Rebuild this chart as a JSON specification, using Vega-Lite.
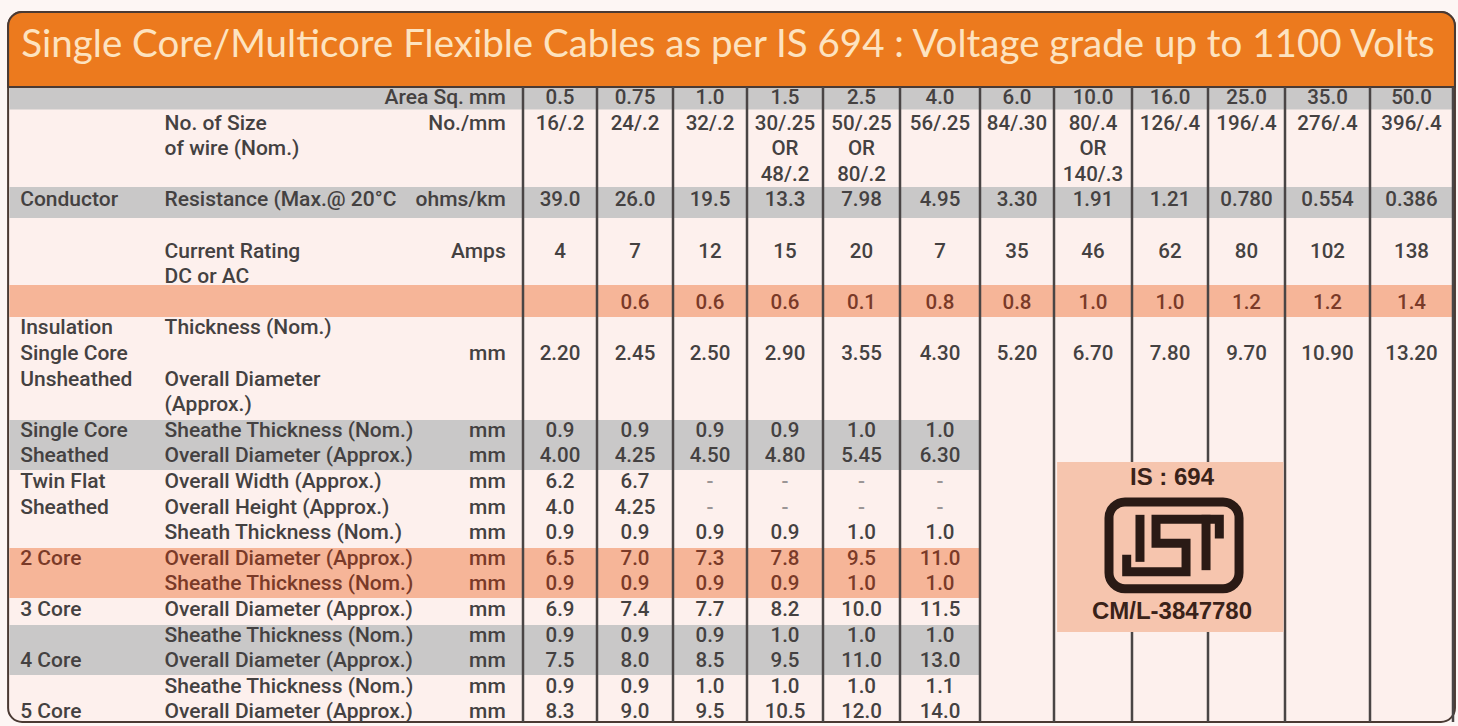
{
  "$schema": "https://vega.github.io/schema/vega-lite/v6.json",
  "width": 1458,
  "height": 726,
  "autosize": {"type": "fit", "contains": "padding"},
  "padding": 0,
  "background": "#fdf6f4",
  "config": {"view": {"stroke": null}},
  "datasets": {
    "bandsFull": [
      {"top": -0.4, "bottom": 0.45, "kind": "gray"},
      {"top": 3.48, "bottom": 4.69, "kind": "gray"},
      {"top": 7.3, "bottom": 8.55, "kind": "orange"}
    ],
    "bandsLeft": [
      {"top": 12.58, "bottom": 14.53, "kind": "gray"},
      {"top": 17.58, "bottom": 19.53, "kind": "orange"},
      {"top": 20.59, "bottom": 22.54, "kind": "gray"}
    ],
    "bounds": [
      {"b": -0.5}, {"b": 0.5}, {"b": 1.5}, {"b": 2.5}, {"b": 3.5}, {"b": 4.5}, {"b": 5.5},
      {"b": 6.5}, {"b": 7.5}, {"b": 8.5}, {"b": 9.5}, {"b": 10.5}, {"b": 11.5}
    ],
    "logo": [
      {"part": "a", "i": 0, "x": 7.605, "y": 16.458},
      {"part": "a", "i": 1, "x": 7.605, "y": 17.943},
      {"part": "b", "i": 0, "x": 7.432, "y": 18.021},
      {"part": "b", "i": 1, "x": 7.432, "y": 18.503},
      {"part": "b", "i": 2, "x": 8.211, "y": 18.503},
      {"part": "b", "i": 3, "x": 8.211, "y": 17.396},
      {"part": "b", "i": 4, "x": 7.816, "y": 17.396},
      {"part": "b", "i": 5, "x": 7.816, "y": 16.458},
      {"part": "b", "i": 6, "x": 8.647, "y": 16.458},
      {"part": "b", "i": 7, "x": 8.647, "y": 17.031},
      {"part": "c", "i": 0, "x": 8.474, "y": 16.458},
      {"part": "c", "i": 1, "x": 8.474, "y": 18.268}
    ],
    "groups": [
      {"L": 4, "t": "Conductor"},
      {"L": 9, "t": "Insulation"},
      {"L": 10, "t": "Single Core"},
      {"L": 11, "t": "Unsheathed"},
      {"L": 13, "t": "Single Core"},
      {"L": 14, "t": "Sheathed"},
      {"L": 15, "t": "Twin Flat"},
      {"L": 16, "t": "Sheathed"},
      {"L": 18, "t": "2 Core"},
      {"L": 20, "t": "3 Core"},
      {"L": 22, "t": "4 Core"},
      {"L": 24, "t": "5 Core"}
    ],
    "params": [
      {"L": 1, "t": "No. of Size"},
      {"L": 2, "t": "of wire (Nom.)"},
      {"L": 4, "t": "Resistance (Max.@ 20°C"},
      {"L": 6, "t": "Current Rating"},
      {"L": 7, "t": "DC or AC"},
      {"L": 9, "t": "Thickness (Nom.)"},
      {"L": 11, "t": "Overall Diameter"},
      {"L": 12, "t": "(Approx.)"},
      {"L": 13, "t": "Sheathe Thickness (Nom.)"},
      {"L": 14, "t": "Overall Diameter (Approx.)"},
      {"L": 15, "t": "Overall Width (Approx.)"},
      {"L": 16, "t": "Overall Height (Approx.)"},
      {"L": 17, "t": "Sheath Thickness (Nom.)"},
      {"L": 18, "t": "Overall Diameter (Approx.)"},
      {"L": 19, "t": "Sheathe Thickness (Nom.)"},
      {"L": 20, "t": "Overall Diameter (Approx.)"},
      {"L": 21, "t": "Sheathe Thickness (Nom.)"},
      {"L": 22, "t": "Overall Diameter (Approx.)"},
      {"L": 23, "t": "Sheathe Thickness (Nom.)"},
      {"L": 24, "t": "Overall Diameter (Approx.)"}
    ],
    "units": [
      {"L": 0, "t": "Area Sq. mm"},
      {"L": 1, "t": "No./mm"},
      {"L": 4, "t": "ohms/km"},
      {"L": 6, "t": "Amps"},
      {"L": 10, "t": "mm"},
      {"L": 13, "t": "mm"}, {"L": 14, "t": "mm"}, {"L": 15, "t": "mm"}, {"L": 16, "t": "mm"},
      {"L": 17, "t": "mm"}, {"L": 18, "t": "mm"}, {"L": 19, "t": "mm"}, {"L": 20, "t": "mm"},
      {"L": 21, "t": "mm"}, {"L": 22, "t": "mm"}, {"L": 23, "t": "mm"}, {"L": 24, "t": "mm"}
    ],
    "cells": [
      {"L": 0, "c": 0, "v": "0.5"}, {"L": 0, "c": 1, "v": "0.75"}, {"L": 0, "c": 2, "v": "1.0"}, {"L": 0, "c": 3, "v": "1.5"},
      {"L": 0, "c": 4, "v": "2.5"}, {"L": 0, "c": 5, "v": "4.0"}, {"L": 0, "c": 6, "v": "6.0"}, {"L": 0, "c": 7, "v": "10.0"},
      {"L": 0, "c": 8, "v": "16.0"}, {"L": 0, "c": 9, "v": "25.0"}, {"L": 0, "c": 10, "v": "35.0"}, {"L": 0, "c": 11, "v": "50.0"},
      {"L": 1, "c": 0, "v": "16/.2"}, {"L": 1, "c": 1, "v": "24/.2"}, {"L": 1, "c": 2, "v": "32/.2"}, {"L": 1, "c": 3, "v": "30/.25"},
      {"L": 1, "c": 4, "v": "50/.25"}, {"L": 1, "c": 5, "v": "56/.25"}, {"L": 1, "c": 6, "v": "84/.30"}, {"L": 1, "c": 7, "v": "80/.4"},
      {"L": 1, "c": 8, "v": "126/.4"}, {"L": 1, "c": 9, "v": "196/.4"}, {"L": 1, "c": 10, "v": "276/.4"}, {"L": 1, "c": 11, "v": "396/.4"},
      {"L": 2, "c": 3, "v": "OR"}, {"L": 2, "c": 4, "v": "OR"}, {"L": 2, "c": 7, "v": "OR"},
      {"L": 3, "c": 3, "v": "48/.2"}, {"L": 3, "c": 4, "v": "80/.2"}, {"L": 3, "c": 7, "v": "140/.3"},
      {"L": 4, "c": 0, "v": "39.0"}, {"L": 4, "c": 1, "v": "26.0"}, {"L": 4, "c": 2, "v": "19.5"}, {"L": 4, "c": 3, "v": "13.3"},
      {"L": 4, "c": 4, "v": "7.98"}, {"L": 4, "c": 5, "v": "4.95"}, {"L": 4, "c": 6, "v": "3.30"}, {"L": 4, "c": 7, "v": "1.91"},
      {"L": 4, "c": 8, "v": "1.21"}, {"L": 4, "c": 9, "v": "0.780"}, {"L": 4, "c": 10, "v": "0.554"}, {"L": 4, "c": 11, "v": "0.386"},
      {"L": 6, "c": 0, "v": "4"}, {"L": 6, "c": 1, "v": "7"}, {"L": 6, "c": 2, "v": "12"}, {"L": 6, "c": 3, "v": "15"},
      {"L": 6, "c": 4, "v": "20"}, {"L": 6, "c": 5, "v": "7"}, {"L": 6, "c": 6, "v": "35"}, {"L": 6, "c": 7, "v": "46"},
      {"L": 6, "c": 8, "v": "62"}, {"L": 6, "c": 9, "v": "80"}, {"L": 6, "c": 10, "v": "102"}, {"L": 6, "c": 11, "v": "138"},
      {"L": 8, "c": 1, "v": "0.6"}, {"L": 8, "c": 2, "v": "0.6"}, {"L": 8, "c": 3, "v": "0.6"},
      {"L": 8, "c": 4, "v": "0.1"}, {"L": 8, "c": 5, "v": "0.8"}, {"L": 8, "c": 6, "v": "0.8"}, {"L": 8, "c": 7, "v": "1.0"},
      {"L": 8, "c": 8, "v": "1.0"}, {"L": 8, "c": 9, "v": "1.2"}, {"L": 8, "c": 10, "v": "1.2"}, {"L": 8, "c": 11, "v": "1.4"},
      {"L": 10, "c": 0, "v": "2.20"}, {"L": 10, "c": 1, "v": "2.45"}, {"L": 10, "c": 2, "v": "2.50"}, {"L": 10, "c": 3, "v": "2.90"},
      {"L": 10, "c": 4, "v": "3.55"}, {"L": 10, "c": 5, "v": "4.30"}, {"L": 10, "c": 6, "v": "5.20"}, {"L": 10, "c": 7, "v": "6.70"},
      {"L": 10, "c": 8, "v": "7.80"}, {"L": 10, "c": 9, "v": "9.70"}, {"L": 10, "c": 10, "v": "10.90"}, {"L": 10, "c": 11, "v": "13.20"},
      {"L": 13, "c": 0, "v": "0.9"}, {"L": 13, "c": 1, "v": "0.9"}, {"L": 13, "c": 2, "v": "0.9"}, {"L": 13, "c": 3, "v": "0.9"}, {"L": 13, "c": 4, "v": "1.0"}, {"L": 13, "c": 5, "v": "1.0"},
      {"L": 14, "c": 0, "v": "4.00"}, {"L": 14, "c": 1, "v": "4.25"}, {"L": 14, "c": 2, "v": "4.50"}, {"L": 14, "c": 3, "v": "4.80"}, {"L": 14, "c": 4, "v": "5.45"}, {"L": 14, "c": 5, "v": "6.30"},
      {"L": 15, "c": 0, "v": "6.2"}, {"L": 15, "c": 1, "v": "6.7"}, {"L": 15, "c": 2, "v": "-"}, {"L": 15, "c": 3, "v": "-"}, {"L": 15, "c": 4, "v": "-"}, {"L": 15, "c": 5, "v": "-"},
      {"L": 16, "c": 0, "v": "4.0"}, {"L": 16, "c": 1, "v": "4.25"}, {"L": 16, "c": 2, "v": "-"}, {"L": 16, "c": 3, "v": "-"}, {"L": 16, "c": 4, "v": "-"}, {"L": 16, "c": 5, "v": "-"},
      {"L": 17, "c": 0, "v": "0.9"}, {"L": 17, "c": 1, "v": "0.9"}, {"L": 17, "c": 2, "v": "0.9"}, {"L": 17, "c": 3, "v": "0.9"}, {"L": 17, "c": 4, "v": "1.0"}, {"L": 17, "c": 5, "v": "1.0"},
      {"L": 18, "c": 0, "v": "6.5"}, {"L": 18, "c": 1, "v": "7.0"}, {"L": 18, "c": 2, "v": "7.3"}, {"L": 18, "c": 3, "v": "7.8"}, {"L": 18, "c": 4, "v": "9.5"}, {"L": 18, "c": 5, "v": "11.0"},
      {"L": 19, "c": 0, "v": "0.9"}, {"L": 19, "c": 1, "v": "0.9"}, {"L": 19, "c": 2, "v": "0.9"}, {"L": 19, "c": 3, "v": "0.9"}, {"L": 19, "c": 4, "v": "1.0"}, {"L": 19, "c": 5, "v": "1.0"},
      {"L": 20, "c": 0, "v": "6.9"}, {"L": 20, "c": 1, "v": "7.4"}, {"L": 20, "c": 2, "v": "7.7"}, {"L": 20, "c": 3, "v": "8.2"}, {"L": 20, "c": 4, "v": "10.0"}, {"L": 20, "c": 5, "v": "11.5"},
      {"L": 21, "c": 0, "v": "0.9"}, {"L": 21, "c": 1, "v": "0.9"}, {"L": 21, "c": 2, "v": "0.9"}, {"L": 21, "c": 3, "v": "1.0"}, {"L": 21, "c": 4, "v": "1.0"}, {"L": 21, "c": 5, "v": "1.0"},
      {"L": 22, "c": 0, "v": "7.5"}, {"L": 22, "c": 1, "v": "8.0"}, {"L": 22, "c": 2, "v": "8.5"}, {"L": 22, "c": 3, "v": "9.5"}, {"L": 22, "c": 4, "v": "11.0"}, {"L": 22, "c": 5, "v": "13.0"},
      {"L": 23, "c": 0, "v": "0.9"}, {"L": 23, "c": 1, "v": "0.9"}, {"L": 23, "c": 2, "v": "1.0"}, {"L": 23, "c": 3, "v": "1.0"}, {"L": 23, "c": 4, "v": "1.0"}, {"L": 23, "c": 5, "v": "1.1"},
      {"L": 24, "c": 0, "v": "8.3"}, {"L": 24, "c": 1, "v": "9.0"}, {"L": 24, "c": 2, "v": "9.5"}, {"L": 24, "c": 3, "v": "10.5"}, {"L": 24, "c": 4, "v": "12.0"}, {"L": 24, "c": 5, "v": "14.0"}
    ]
  },
  "layer": [
    {
      "data": {"values": [{"k": 1}]},
      "mark": {"type": "rect", "fill": "#fdf0ed", "stroke": "#4a3a33", "strokeWidth": 2, "cornerRadius": 14},
      "encoding": {
        "x": {"datum": -7.045, "type": "quantitative", "axis": null, "scale": {"domain": [-7.148, -0.5, 0.5, 1.5, 2.5, 3.5, 4.5, 5.5, 6.5, 7.5, 8.5, 9.5, 10.5, 11.5, 11.564], "range": [0, 523, 597, 673, 747, 823, 900, 980, 1054, 1132, 1208, 1285, 1370, 1453, 1458], "nice": false, "zero": false}},
        "x2": {"datum": 11.525},
        "y": {"datum": -3.36, "type": "quantitative", "axis": null, "scale": {"domain": [-3.828, 24.531], "nice": false, "zero": false, "reverse": true}},
        "y2": {"datum": 24.375}
      }
    },
    {
      "data": {"name": "bandsFull"},
      "mark": {"type": "rect"},
      "encoding": {
        "x": {"datum": -7.03, "type": "quantitative", "axis": null},
        "x2": {"datum": 11.5},
        "y": {"field": "top", "type": "quantitative", "axis": null},
        "y2": {"field": "bottom"},
        "color": {"field": "kind", "type": "nominal", "legend": null, "scale": {"domain": ["gray", "orange"], "range": ["#c9c8c8", "#f6b598"]}}
      }
    },
    {
      "data": {"name": "bandsLeft"},
      "mark": {"type": "rect"},
      "encoding": {
        "x": {"datum": -7.03, "type": "quantitative", "axis": null},
        "x2": {"datum": 5.5},
        "y": {"field": "top", "type": "quantitative", "axis": null},
        "y2": {"field": "bottom"},
        "color": {"field": "kind", "type": "nominal", "legend": null, "scale": {"domain": ["gray", "orange"], "range": ["#c9c8c8", "#f6b598"]}}
      }
    },
    {
      "data": {"values": [{"k": 1}]},
      "mark": {"type": "rect", "fill": "#ec7a1e", "stroke": "#4a3a33", "strokeWidth": 2, "cornerRadiusTopLeft": 14, "cornerRadiusTopRight": 14},
      "encoding": {
        "x": {"datum": -7.045, "type": "quantitative", "axis": null},
        "x2": {"datum": 11.525},
        "y": {"datum": -3.36, "type": "quantitative", "axis": null},
        "y2": {"datum": -0.43}
      }
    },
    {
      "data": {"name": "bounds"},
      "mark": {"type": "rule", "color": "#4a4545", "strokeWidth": 2.5},
      "encoding": {
        "x": {"field": "b", "type": "quantitative", "axis": null},
        "y": {"datum": -0.43, "type": "quantitative", "axis": null},
        "y2": {"datum": 24.375}
      }
    },
    {
      "data": {"values": [{"k": 1}]},
      "mark": {"type": "rect", "fill": "#f6c5ae"},
      "encoding": {
        "x": {"datum": 6.54, "type": "quantitative", "axis": null},
        "x2": {"datum": 9.48},
        "y": {"datum": 14.22, "type": "quantitative", "axis": null},
        "y2": {"datum": 20.86}
      }
    },
    {
      "data": {"values": [{"k": 1}]},
      "mark": {"type": "rect", "fill": "#f6c5ae", "fillOpacity": 0, "stroke": "#2a1a15", "strokeWidth": 9, "cornerRadius": 16},
      "encoding": {
        "x": {"datum": 7.205, "type": "quantitative", "axis": null},
        "x2": {"datum": 8.903},
        "y": {"datum": 15.781, "type": "quantitative", "axis": null},
        "y2": {"datum": 19.167}
      }
    },
    {
      "data": {"name": "logo"},
      "mark": {"type": "line", "color": "#2a1a15", "strokeWidth": 9, "strokeCap": "square", "strokeJoin": "miter"},
      "encoding": {
        "x": {"field": "x", "type": "quantitative", "axis": null},
        "y": {"field": "y", "type": "quantitative", "axis": null},
        "detail": {"field": "part", "type": "nominal"},
        "order": {"field": "i", "type": "quantitative"}
      }
    },
    {
      "data": {"values": [{"t": "IS : 694", "L": 14.84}, {"t": "CM/L-3847780", "L": 20.08}]},
      "mark": {"type": "text", "font": "Liberation Sans", "fontWeight": "bold", "fontSize": 24, "color": "#3a2219", "baseline": "middle", "align": "center"},
      "encoding": {
        "x": {"datum": 8.026, "type": "quantitative", "axis": null},
        "y": {"field": "L", "type": "quantitative", "axis": null},
        "text": {"field": "t"}
      }
    },
    {
      "data": {"values": [{"t": "Single Core/Multicore Flexible Cables as per IS 694 : Voltage grade up to 1100 Volts"}]},
      "mark": {"type": "text", "font": "Lato", "fontSize": 38.5, "color": "#fde3c0", "baseline": "alphabetic", "align": "center"},
      "encoding": {
        "x": {"datum": 2.243, "type": "quantitative", "axis": null},
        "y": {"datum": -1.62, "type": "quantitative", "axis": null},
        "text": {"field": "t"}
      }
    },
    {
      "data": {"name": "groups"},
      "mark": {"type": "text", "font": "Roboto", "fontWeight": 500, "fontSize": 21, "baseline": "middle", "align": "left"},
      "encoding": {
        "x": {"datum": -6.891, "type": "quantitative", "axis": null},
        "y": {"field": "L", "type": "quantitative", "axis": null},
        "text": {"field": "t"},
        "color": {"condition": {"test": "datum.L == 18", "value": "#7a3a28"}, "value": "#444141"}
      }
    },
    {
      "data": {"name": "params"},
      "mark": {"type": "text", "font": "Roboto", "fontWeight": 500, "fontSize": 21, "baseline": "middle", "align": "left"},
      "encoding": {
        "x": {"datum": -5.056, "type": "quantitative", "axis": null},
        "y": {"field": "L", "type": "quantitative", "axis": null},
        "text": {"field": "t"},
        "color": {"condition": {"test": "datum.L == 18 || datum.L == 19", "value": "#7a3a28"}, "value": "#444141"}
      }
    },
    {
      "data": {"name": "units"},
      "mark": {"type": "text", "font": "Roboto", "fontWeight": 500, "fontSize": 21, "baseline": "middle", "align": "right"},
      "encoding": {
        "x": {"datum": -0.72, "type": "quantitative", "axis": null},
        "y": {"field": "L", "type": "quantitative", "axis": null},
        "text": {"field": "t"},
        "color": {"condition": {"test": "datum.L == 18 || datum.L == 19", "value": "#7a3a28"}, "value": "#444141"}
      }
    },
    {
      "data": {"name": "cells"},
      "mark": {"type": "text", "font": "Roboto", "fontWeight": 500, "fontSize": 20.5, "baseline": "middle", "align": "center"},
      "encoding": {
        "x": {"field": "c", "type": "quantitative", "axis": null},
        "y": {"field": "L", "type": "quantitative", "axis": null},
        "text": {"field": "v"},
        "color": {"condition": [{"test": "datum.v == '-'", "value": "#9a9595"}, {"test": "datum.L == 8 || datum.L == 18 || datum.L == 19", "value": "#7a3a28"}], "value": "#444141"}
      }
    }
  ]
}
